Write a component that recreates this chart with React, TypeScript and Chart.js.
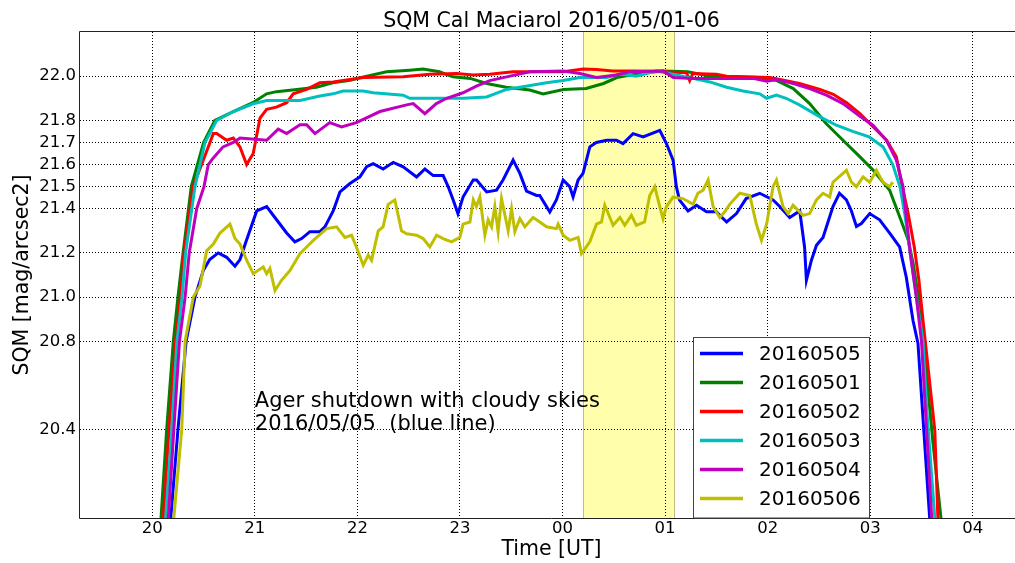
import React, { useEffect, useRef } from "react";
import { Chart, registerables } from "chart.js";
Chart.register(...registerables);

const FONT = "'DejaVu Sans', 'Bitstream Vera Sans', sans-serif";

const chartTitle = "SQM Cal Maciarol 2016/05/01-06";
const xLabel = "Time [UT]";
const yLabel = "SQM [mag/arcsec2]";
const noteLines = ["Ager shutdown with cloudy skies", "2016/05/05  (blue line)"];
const noteAt = [21.0, 20.4];

const xTicks = [20, 21, 22, 23, 24, 25, 26, 27, 28];
const yTicks = [20.4, 20.8, 21.0, 21.2, 21.4, 21.5, 21.6, 21.7, 21.8, 22.0];
const xRange = [19.295, 28.49];
const yRange = [20.0, 22.2];
const bandRange = [24.2, 25.1];

const seriesLabels = ["20160505", "20160501", "20160502", "20160503", "20160504", "20160506"];
const seriesColors = ["#0000ff", "#008000", "#ff0000", "#00bfbf", "#bf00bf", "#bfbf00"];

// 20160505 (blue)
const t0505 = [
  20.145, 20.18, 20.25, 20.33, 20.416, 20.497, 20.56, 20.643, 20.725, 20.806,
  20.855, 20.92, 21.018, 21.115, 21.212, 21.31, 21.39, 21.456, 21.537, 21.634,
  21.683, 21.764, 21.83, 21.927, 22.024, 22.09, 22.154, 22.251, 22.349, 22.446,
  22.577, 22.658, 22.739, 22.836, 22.885, 22.934, 22.98, 23.03, 23.129, 23.162,
  23.26, 23.357, 23.42, 23.518, 23.584, 23.649, 23.746, 23.778, 23.876, 23.94,
  24.006, 24.07, 24.103, 24.152, 24.2, 24.266, 24.33, 24.43, 24.526, 24.59,
  24.688, 24.786, 24.948, 25.013, 25.078, 25.11, 25.14, 25.224, 25.306, 25.404,
  25.5, 25.6, 25.696, 25.79, 25.923, 26.053, 26.118, 26.215, 26.313, 26.36,
  26.378, 26.427, 26.476, 26.54, 26.637, 26.7, 26.768, 26.817, 26.866, 26.914,
  26.995, 27.092, 27.19, 27.287, 27.352, 27.417, 27.466, 27.58, 27.6,
];
const v0505 = [
  19.8, 20.0, 20.4, 20.8, 21.0, 21.12, 21.17, 21.2, 21.18, 21.14,
  21.17, 21.26, 21.39, 21.41, 21.35, 21.29, 21.25, 21.265, 21.296, 21.296,
  21.318, 21.39, 21.476, 21.514, 21.544, 21.59, 21.604, 21.58, 21.61, 21.59,
  21.544, 21.58, 21.55, 21.55, 21.5, 21.44, 21.378, 21.453, 21.53, 21.53,
  21.476, 21.484, 21.53, 21.62, 21.56, 21.48, 21.46, 21.46, 21.385, 21.44,
  21.53, 21.5, 21.453, 21.53, 21.56, 21.68, 21.7, 21.71, 21.71, 21.695,
  21.74, 21.725, 21.755, 21.695, 21.62, 21.5, 21.44, 21.39, 21.416, 21.386,
  21.386, 21.34, 21.378, 21.446, 21.47, 21.44, 21.41, 21.36, 21.39, 21.227,
  21.076, 21.167, 21.235, 21.27, 21.41, 21.47, 21.44, 21.39, 21.32, 21.333,
  21.378, 21.35, 21.29, 21.227, 21.09, 20.895, 20.79, 20.0, 19.8,
];

// 20160501 (green)
const t0501 = [
  20.06, 20.085, 20.14, 20.205, 20.25, 20.3, 20.38, 20.44, 20.5, 20.61,
  20.79, 20.98, 21.115, 21.21, 21.41, 21.6, 21.76, 21.93, 22.06, 22.285,
  22.51, 22.64, 22.8, 22.93, 23.1, 23.26, 23.45, 23.68, 23.81, 24.01,
  24.23, 24.4, 24.53, 24.66, 24.98, 25.22, 25.44, 25.92, 26.09, 26.25,
  26.41, 26.57, 26.735, 26.9, 27.03, 27.16, 27.19, 27.29, 27.37, 27.42,
  27.47, 27.51, 27.61, 27.69, 27.71,
];
const v0501 = [
  19.8, 20.0, 20.4, 20.8, 21.0, 21.2, 21.5, 21.6, 21.7, 21.8,
  21.84, 21.88, 21.92, 21.93, 21.94, 21.95, 21.97, 21.982, 21.997, 22.02,
  22.027, 22.032, 22.02, 21.997, 21.99, 21.967, 21.95, 21.937, 21.92, 21.94,
  21.944, 21.967, 21.994, 22.005, 22.024, 22.02, 22.0, 21.994, 21.98, 21.944,
  21.876, 21.786, 21.71, 21.635, 21.574, 21.5, 21.484, 21.36, 21.26, 21.15,
  21.0, 20.85, 20.35, 20.0, 19.8,
];

// 20160502 (red)
const t0502 = [
  20.08, 20.107, 20.163, 20.226, 20.273, 20.309, 20.397, 20.481, 20.595, 20.628,
  20.725, 20.79, 20.855, 20.92, 20.984, 21.05, 21.115, 21.21, 21.31, 21.374,
  21.505, 21.634, 21.764, 22.057, 22.446, 22.706, 22.967, 23.129, 23.291, 23.518,
  24.006, 24.2, 24.33, 24.49, 24.72, 24.98, 25.21, 25.24, 25.27, 25.5,
  25.6, 26.02, 26.12, 26.31, 26.51, 26.64, 26.77, 26.9, 27.03, 27.16,
  27.255, 27.3, 27.37, 27.43, 27.475, 27.515, 27.55, 27.63, 27.66, 27.68,
];
const v0502 = [
  19.8, 20.0, 20.4, 20.8, 21.0, 21.2, 21.5, 21.6, 21.74, 21.74,
  21.71, 21.72, 21.68, 21.6, 21.65, 21.81, 21.85, 21.86, 21.88, 21.92,
  21.94, 21.97, 21.974, 21.994, 21.997, 22.009, 22.012, 22.005, 22.009, 22.02,
  22.02, 22.032, 22.03, 22.024, 22.024, 22.02, 22.015, 21.98, 22.012, 22.009,
  22.0, 21.994, 21.985, 21.967, 21.94, 21.918, 21.88, 21.83, 21.77, 21.71,
  21.635, 21.53, 21.378, 21.227, 21.076, 20.895, 20.744, 20.397, 20.0, 19.8,
];

// 20160503 (cyan)
const t0503 = [
  20.105, 20.13, 20.19, 20.24, 20.29, 20.325, 20.416, 20.514, 20.628, 20.79,
  20.984, 21.115, 21.44, 21.634, 21.764, 21.86, 22.057, 22.154, 22.446, 22.51,
  22.706, 23.03, 23.26, 23.454, 23.584, 23.844, 24.006, 24.17, 24.43, 24.56,
  24.72, 24.916, 25.11, 25.27, 25.436, 25.6, 25.76, 25.923, 25.99, 26.086,
  26.18, 26.31, 26.51, 26.67, 26.83, 26.99, 27.125, 27.22, 27.29, 27.336,
  27.39, 27.45, 27.515, 27.55, 27.63, 27.65,
];
const v0503 = [
  19.8, 20.0, 20.4, 20.8, 21.0, 21.2, 21.5, 21.7, 21.8, 21.84,
  21.875, 21.89, 21.89, 21.91, 21.92, 21.933, 21.933, 21.925, 21.914, 21.9,
  21.9, 21.9, 21.906, 21.94, 21.95, 21.97, 21.98, 21.994, 21.994, 22.01,
  22.0, 22.024, 22.005, 21.99, 21.974, 21.95, 21.933, 21.92, 21.9, 21.914,
  21.9, 21.87, 21.816, 21.778, 21.75, 21.725, 21.68, 21.6, 21.5, 21.38,
  21.2, 21.0, 20.8, 20.5, 20.0, 19.8,
];

// 20160504 (magenta)
const t0504 = [
  20.13, 20.156, 20.21, 20.265, 20.32, 20.36, 20.433, 20.504, 20.546, 20.595,
  20.69, 20.79, 20.855, 21.115, 21.228, 21.31, 21.44, 21.505, 21.586, 21.73,
  21.846, 21.99, 22.22, 22.48, 22.544, 22.658, 22.77, 22.87, 23.03, 23.16,
  23.29, 23.454, 23.68, 24.006, 24.17, 24.33, 24.526, 24.656, 24.98, 25.08,
  25.27, 25.858, 25.99, 26.086, 26.25, 26.41, 26.573, 26.735, 26.897, 27.027,
  27.158, 27.255, 27.32, 27.39, 27.45, 27.5, 27.6, 27.62,
];
const v0504 = [
  19.8, 20.0, 20.4, 20.8, 21.0, 21.2, 21.4, 21.5, 21.6, 21.63,
  21.68, 21.7, 21.72, 21.71, 21.76, 21.74, 21.78, 21.78, 21.74, 21.79,
  21.77, 21.79, 21.84, 21.87, 21.876, 21.83, 21.876, 21.9, 21.925, 21.955,
  21.98, 21.997, 22.02, 22.023, 22.012, 21.994, 22.005, 22.02, 22.024, 21.994,
  21.99, 21.99, 21.977, 21.985, 21.967, 21.944, 21.914, 21.876, 21.82, 21.778,
  21.71, 21.62, 21.5, 21.2, 21.0, 20.8, 20.0, 19.8,
];

// 20160506 (yellow)
const t0506 = [
  20.17, 20.21, 20.287, 20.32, 20.4, 20.465, 20.53, 20.595, 20.66, 20.757,
  20.806, 20.855, 20.92, 20.984, 21.082, 21.115, 21.147, 21.196, 21.26, 21.342,
  21.44, 21.505, 21.57, 21.7, 21.797, 21.878, 21.943, 21.99, 22.057, 22.105,
  22.138, 22.203, 22.25, 22.3, 22.365, 22.43, 22.48, 22.577, 22.641, 22.706,
  22.772, 22.836, 22.918, 22.999, 23.03, 23.097, 23.13, 23.16, 23.194, 23.243,
  23.275, 23.308, 23.34, 23.372, 23.405, 23.47, 23.503, 23.535, 23.584, 23.633,
  23.713, 23.778, 23.844, 23.94, 23.957, 24.006, 24.071, 24.152, 24.185, 24.266,
  24.331, 24.38, 24.412, 24.493, 24.56, 24.607, 24.672, 24.72, 24.8, 24.85,
  24.9, 24.948, 24.98, 25.013, 25.078, 25.175, 25.273, 25.32, 25.37, 25.42,
  25.468, 25.533, 25.582, 25.63, 25.728, 25.826, 25.89, 25.94, 25.99, 26.053,
  26.086, 26.15, 26.2, 26.248, 26.345, 26.41, 26.476, 26.54, 26.605, 26.637,
  26.768, 26.817, 26.866, 26.93, 26.995, 27.06, 27.125, 27.19, 27.22,
];
const v0506 = [
  19.8, 20.0, 20.4, 20.8, 21.0, 21.05, 21.21, 21.24, 21.29, 21.33,
  21.265, 21.24, 21.167, 21.106, 21.136, 21.106, 21.13, 21.03, 21.076, 21.12,
  21.197, 21.227, 21.257, 21.31, 21.318, 21.27, 21.28, 21.227, 21.144, 21.19,
  21.167, 21.3, 21.318, 21.42, 21.44, 21.3, 21.287, 21.28, 21.265, 21.227,
  21.28, 21.265, 21.25, 21.27, 21.33, 21.34, 21.44, 21.41, 21.453, 21.28,
  21.35, 21.318, 21.41, 21.296, 21.446, 21.3, 21.4, 21.296, 21.355, 21.318,
  21.36, 21.34, 21.318, 21.31, 21.33, 21.28, 21.257, 21.27, 21.197, 21.25,
  21.33, 21.34, 21.416, 21.325, 21.36, 21.325, 21.37, 21.325, 21.34, 21.46,
  21.5, 21.41, 21.355, 21.41, 21.453, 21.446, 21.42, 21.47, 21.484, 21.53,
  21.41, 21.36, 21.386, 21.42, 21.47, 21.46, 21.33, 21.257, 21.33, 21.5,
  21.53, 21.41, 21.378, 21.416, 21.37, 21.378, 21.44, 21.47, 21.453, 21.52,
  21.574, 21.52, 21.5, 21.544, 21.52, 21.574, 21.52, 21.5, 21.52,
];

const seriesTimes = [t0505, t0501, t0502, t0503, t0504, t0506];
const seriesValues = [v0505, v0501, v0502, v0503, v0504, v0506];

function fmtHour(v: number): string {
  const h = ((Math.round(v) % 24) + 24) % 24;
  return String(h).padStart(2, "0");
}

const bandPlugin = {
  id: "band",
  beforeDraw(chart: any) {
    const { ctx, chartArea, scales } = chart;
    const x0 = scales.x.getPixelForValue(bandRange[0]);
    const x1 = scales.x.getPixelForValue(bandRange[1]);
    ctx.save();
    ctx.fillStyle = "rgba(255,255,0,0.33)";
    ctx.fillRect(x0, chartArea.top, x1 - x0, chartArea.bottom - chartArea.top);
    ctx.strokeStyle = "rgba(0,0,0,0.25)";
    ctx.lineWidth = 1;
    ctx.beginPath();
    ctx.moveTo(Math.round(x0) + 0.5, chartArea.top);
    ctx.lineTo(Math.round(x0) + 0.5, chartArea.bottom);
    ctx.moveTo(Math.round(x1) - 0.5, chartArea.top);
    ctx.lineTo(Math.round(x1) - 0.5, chartArea.bottom);
    ctx.stroke();
    ctx.restore();
  },
};

const decorPlugin = {
  id: "decor",
  afterDraw(chart: any) {
    const { ctx, chartArea, scales } = chart;
    const { left, right, top, bottom } = chartArea;
    ctx.save();
    // frame
    ctx.strokeStyle = "#222";
    ctx.lineWidth = 1;
    ctx.beginPath();
    ctx.moveTo(left - 0.5, bottom + 0.5);
    ctx.lineTo(left - 0.5, top - 0.5);
    ctx.lineTo(right + 0.5, top - 0.5);
    ctx.lineTo(right + 0.5, bottom + 0.5);
    ctx.closePath();
    ctx.stroke();

    // title
    ctx.fillStyle = "#000";
    ctx.font = `20.5px ${FONT}`;
    ctx.textAlign = "center";
    ctx.textBaseline = "alphabetic";
    ctx.fillText(chartTitle, (left + right) / 2, 26.5);

    // annotation
    ctx.font = `21px ${FONT}`;
    ctx.textAlign = "left";
    const nx = scales.x.getPixelForValue(noteAt[0]);
    const ny = scales.y.getPixelForValue(noteAt[1]);
    ctx.fillText(noteLines[0], nx, ny - 23);
    ctx.fillText(noteLines[1], nx, ny);

    // legend
    const lx = 693.5, ly = 337.5, lw = 176, lh = bottom - 337.5;
    ctx.fillStyle = "#fff";
    ctx.fillRect(lx, ly, lw, lh);
    ctx.strokeStyle = "#444";
    ctx.strokeRect(lx, ly, lw, lh);
    ctx.font = `20px ${FONT}`;
    ctx.textBaseline = "middle";
    const ds = chart.data.datasets;
    for (let i = 0; i < ds.length; i++) {
      const y = 353.5 + i * 29;
      ctx.strokeStyle = ds[i].borderColor;
      ctx.lineWidth = 3.5;
      ctx.beginPath();
      ctx.moveTo(700, y);
      ctx.lineTo(743, y);
      ctx.stroke();
      ctx.fillStyle = "#000";
      ctx.fillText(ds[i].label, 759, y + 1);
    }
    ctx.restore();
  },
};

export default function App() {
  const ref = useRef<HTMLCanvasElement>(null);
  useEffect(() => {
    const canvas = ref.current;
    if (!canvas) return;
    const datasets = seriesLabels.map((label, i) => {
      const ts = seriesTimes[i];
      const vs = seriesValues[i];
      const n = Math.min(ts.length, vs.length);
      const data = [];
      for (let j = 0; j < n; j++) data.push({ x: ts[j], y: vs[j] });
      return {
        label,
        data,
        borderColor: seriesColors[i],
        backgroundColor: seriesColors[i],
        borderWidth: 3,
        pointRadius: 0,
        tension: 0,
        fill: false,
        clip: 0,
        order: seriesLabels.length - i,
      };
    });
    const tickFont = { family: FONT, size: 16.5 };
    const labelFont = { family: FONT, size: 20.5 };
    const chart = new Chart(canvas, {
      type: "line",
      data: { datasets },
      options: {
        animation: false,
        responsive: false,
        devicePixelRatio: 1,
        layout: { padding: { top: 32, right: 7, left: 0, bottom: 0 } },
        plugins: {
          legend: { display: false },
          title: { display: false },
          tooltip: { enabled: false },
        },
        scales: {
          x: {
            type: "linear",
            min: xRange[0],
            max: xRange[1],
            afterBuildTicks: (s: any) => {
              s.ticks = xTicks.map((v) => ({ value: v }));
            },
            afterFit: (s: any) => {
              s.height = 45;
            },
            ticks: {
              callback: (v: any) => fmtHour(Number(v)),
              font: tickFont,
              color: "#000",
              padding: 1,
              maxRotation: 0,
              autoSkip: false,
            },
            grid: { color: "#000", lineWidth: 1, drawTicks: false },
            border: { display: false, dash: [1, 2] },
            title: {
              display: true,
              text: xLabel,
              font: labelFont,
              color: "#000",
              padding: { top: 0, bottom: 1 },
            },
          },
          y: {
            type: "linear",
            min: yRange[0],
            max: yRange[1],
            afterBuildTicks: (s: any) => {
              s.ticks = yTicks.map((v) => ({ value: v }));
            },
            afterFit: (s: any) => {
              s.width = 80;
            },
            ticks: {
              callback: (v: any) => Number(v).toFixed(1),
              font: tickFont,
              color: "#000",
              padding: 4,
              autoSkip: false,
            },
            grid: { color: "#000", lineWidth: 1, drawTicks: false },
            border: { display: false, dash: [1, 2] },
            title: {
              display: true,
              text: yLabel,
              font: labelFont,
              color: "#000",
              padding: { top: 10, bottom: 0 },
            },
          },
        },
      } as any,
      plugins: [bandPlugin, decorPlugin],
    });
    return () => chart.destroy();
  }, []);

  return (
    <div
      style={{
        position: "fixed",
        left: 0,
        top: 0,
        width: 1015,
        height: 563,
        overflow: "hidden",
        background: "#fff",
      }}
    >
      <canvas ref={ref} width={1030} height={563} style={{ display: "block" }} />
    </div>
  );
}
